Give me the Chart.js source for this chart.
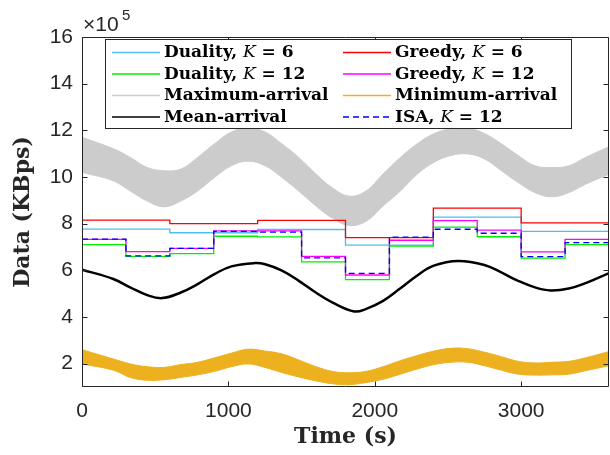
<!DOCTYPE html>
<html>
<head>
<meta charset="utf-8">
<script src="https://cdn.jsdelivr.net/npm/chart.js@4.4.1/dist/chart.umd.min.js"></script>
<style>
  html, body { margin: 0; padding: 0; background: #fff; }
</style>
</head>
<body>
<canvas id="myChart" width="610" height="455"></canvas>
<script>
// values are in units of 10^5 KBps
const xTicks = [0, 1000, 2000, 3000];
const yTicks = [2, 4, 6, 8, 10, 12, 14, 16];

// decision intervals
const timesK6 = [0, 600, 1200, 1800, 2400, 3000];
const timesK12 = [0, 300, 600, 900, 1200, 1500, 1800, 2100, 2400, 2700, 3000, 3300];
const endTime = 3600;

const dualityK6 = [7.77, 7.61, 7.75, 7.08, 8.28, 7.67];
const greedyK6 = [8.15, 8.00, 8.14, 7.40, 8.67, 8.03];
const dualityK12 = [7.10, 6.60, 6.72, 7.46, 7.43, 6.36, 5.60, 7.04, 7.85, 7.44, 6.52, 7.10];
const greedyK12 = [7.33, 6.80, 6.94, 7.69, 7.69, 6.60, 5.80, 7.29, 8.13, 7.72, 6.79, 7.33];
const isaK12 = [7.34, 6.62, 6.94, 7.67, 7.64, 6.53, 5.87, 7.42, 7.76, 7.59, 6.59, 7.19];

// mean arrival curve
const meanT = [0, 214, 329, 445, 548, 675, 790, 905, 1021, 1180, 1251, 1366, 1481, 1597, 1712,
  1860, 1942, 2057, 2173, 2288, 2403, 2570, 2749, 2864, 2979, 3094, 3200, 3325, 3440, 3600];
const meanVals = [6.03, 5.63, 5.27, 4.94, 4.81, 5.05, 5.41, 5.84, 6.17, 6.31, 6.26, 5.99, 5.55, 5.05, 4.62,
  4.24, 4.35, 4.69, 5.22, 5.77, 6.20, 6.40, 6.23, 5.91, 5.55, 5.27, 5.14, 5.22, 5.45, 5.88];

// envelopes of the noisy max / min arrival traces
const envT = [0, 215, 330, 445, 560, 675, 790, 905, 1020, 1135, 1250, 1365, 1480, 1600, 1710, 1825,
  1940, 2055, 2175, 2290, 2405, 2520, 2635, 2750, 2865, 2980, 3095, 3210, 3325, 3440, 3600];
const maxUpper = [11.70, 11.21, 10.84, 10.41, 10.27, 10.34, 10.84, 11.42, 11.93, 12.10, 11.93, 11.42, 10.84, 10.12, 9.54, 9.18,
  9.40, 10.12, 10.84, 11.42, 11.86, 12.07, 12.10, 11.86, 11.42, 10.92, 10.48, 10.41, 10.48, 10.84, 11.30];
const maxLower = [10.20, 9.83, 9.40, 8.97, 8.72, 8.97, 9.40, 9.98, 10.48, 10.68, 10.48, 9.98, 9.40, 8.75, 8.24, 7.92,
  8.10, 8.75, 9.40, 10.12, 10.63, 10.92, 10.99, 10.77, 10.27, 9.76, 9.33, 9.15, 9.33, 9.69, 10.12];
const minUpper = [2.60, 2.20, 1.99, 1.87, 1.84, 1.96, 2.06, 2.25, 2.45, 2.62, 2.54, 2.42, 2.16, 1.87, 1.67, 1.61,
  1.67, 1.87, 2.13, 2.35, 2.54, 2.66, 2.64, 2.49, 2.30, 2.10, 2.03, 2.06, 2.10, 2.25, 2.52];
const minLower = [1.99, 1.72, 1.41, 1.29, 1.31, 1.41, 1.52, 1.67, 1.87, 1.99, 1.84, 1.62, 1.43, 1.26, 1.14, 1.10,
  1.19, 1.33, 1.55, 1.77, 1.96, 2.06, 2.06, 1.91, 1.72, 1.55, 1.51, 1.52, 1.55, 1.70, 1.91];

const colors = {
  dualK6: "#4DBEEE",
  greedyK6: "#FF0000",
  dualK12: "#00EE00",
  greedyK12: "#FF00FF",
  maxArr: "#CCCCCC",
  minArr: "#EDB120",
  mean: "#000000",
  isa: "#0000FF",
};

const toPoints = (ts, vs) => ts.map((t, i) => ({ x: t, y: vs[i] }));
const toSteps = (ts, vs) => toPoints(ts, vs).concat([{ x: endTime, y: vs[vs.length - 1] }]);

const stepLine = (label, ts, vs, color, order, dash) => ({
  label,
  data: toSteps(ts, vs),
  borderColor: color,
  borderWidth: 1.3,
  borderDash: dash || [],
  stepped: true,
  pointRadius: 0,
  fill: false,
  order,
});

const curve = (label, ts, vs, color, order, width, fill) => ({
  label,
  data: toPoints(ts, vs),
  borderColor: color,
  backgroundColor: color,
  borderWidth: width,
  tension: 0.4,
  pointRadius: 0,
  fill: fill || false,
  order,
});

const serif = '"DejaVu Serif", "Liberation Serif", serif';
const sans = '"Liberation Sans", Arial, sans-serif';

// legend drawn inside the axes, two columns
const legendItems = [
  { parts: [["b", "Duality, "], ["i", "K"], ["b", " = 6"]], color: colors.dualK6 },
  { parts: [["b", "Greedy, "], ["i", "K"], ["b", " = 6"]], color: colors.greedyK6 },
  { parts: [["b", "Duality, "], ["i", "K"], ["b", " = 12"]], color: colors.dualK12 },
  { parts: [["b", "Greedy, "], ["i", "K"], ["b", " = 12"]], color: colors.greedyK12 },
  { parts: [["b", "Maximum-arrival"]], color: colors.maxArr },
  { parts: [["b", "Minimum-arrival"]], color: colors.minArr },
  { parts: [["b", "Mean-arrival"]], color: colors.mean },
  { parts: [["b", "ISA, "], ["i", "K"], ["b", " = 12"]], color: colors.isa, dash: [6, 4] },
];

const boxLegend = {
  id: "boxLegend",
  afterDraw(chart) {
    const ctx = chart.ctx;
    ctx.save();
    ctx.fillStyle = "#fff";
    ctx.fillRect(105.5, 39.5, 466, 89);
    ctx.strokeStyle = "#262626";
    ctx.lineWidth = 1;
    ctx.strokeRect(105.5, 39.5, 466, 89);
    ctx.textBaseline = "middle";
    ctx.fillStyle = "#000";
    legendItems.forEach((it, i) => {
      const col = i % 2, row = Math.floor(i / 2);
      const y = 52 + row * 21.5;
      const x0 = col === 0 ? 112 : 343;
      ctx.beginPath();
      ctx.strokeStyle = it.color;
      ctx.lineWidth = 1.3;
      ctx.setLineDash(it.dash || []);
      ctx.moveTo(x0, y + 0.5);
      ctx.lineTo(x0 + 48, y + 0.5);
      ctx.stroke();
      ctx.setLineDash([]);
      let x = x0 + 52;
      it.parts.forEach(([style, txt]) => {
        ctx.font = (style === "i" ? "italic " : "bold ") + "17px " + serif;
        ctx.fillText(txt, x, y + 1);
        x += ctx.measureText(txt).width;
      });
    });
    ctx.restore();
  },
};

// box around the axes with inward ticks, axis titles and the exponent
const axesFrame = {
  id: "axesFrame",
  afterDatasetsDraw(chart) {
    const { ctx, chartArea: a, scales } = chart;
    ctx.save();
    ctx.strokeStyle = "#262626";
    ctx.lineWidth = 1;
    const L = Math.round(a.left) + 0.5, R = Math.round(a.right) - 0.5;
    const T = Math.round(a.top) + 0.5, B = Math.round(a.bottom) - 0.5;
    ctx.beginPath();
    ctx.rect(L, T, R - L, B - T);
    xTicks.forEach(v => {
      const px = Math.round(scales.x.getPixelForValue(v)) + 0.5;
      ctx.moveTo(px, B); ctx.lineTo(px, B - 5);
      ctx.moveTo(px, T); ctx.lineTo(px, T + 5);
    });
    yTicks.forEach(v => {
      const py = Math.round(scales.y.getPixelForValue(v)) + 0.5;
      ctx.moveTo(L, py); ctx.lineTo(L + 5, py);
      ctx.moveTo(R, py); ctx.lineTo(R - 5, py);
    });
    ctx.stroke();

    ctx.fillStyle = "#262626";
    ctx.font = "bold 22px " + serif;
    ctx.textAlign = "center";
    ctx.textBaseline = "alphabetic";
    ctx.fillText("Time (s)", (a.left + a.right) / 2, 443);
    ctx.save();
    ctx.translate(29, (a.top + a.bottom) / 2);
    ctx.rotate(-Math.PI / 2);
    ctx.fillText("Data (KBps)", 0, 0);
    ctx.restore();

    ctx.textAlign = "left";
    ctx.font = "21px " + sans;
    ctx.fillText("\u00d710", 83, 31);
    ctx.font = "15px " + sans;
    ctx.fillText("5", 122, 20);
    ctx.restore();
  },
};

const ctx = document.getElementById("myChart");

new Chart(ctx, {
  type: "line",
  data: {
    datasets: [
      stepLine("ISA, K = 12", timesK12, isaK12, colors.isa, 1, [6, 4]),
      stepLine("Greedy, K = 12", timesK12, greedyK12, colors.greedyK12, 2),
      stepLine("Duality, K = 12", timesK12, dualityK12, colors.dualK12, 3),
      stepLine("Greedy, K = 6", timesK6, greedyK6, colors.greedyK6, 4),
      stepLine("Duality, K = 6", timesK6, dualityK6, colors.dualK6, 5),
      curve("Mean-arrival", meanT, meanVals, colors.mean, 6, 2.5),
      curve("Minimum-arrival", envT, minUpper, colors.minArr, 7, 1, "+1"),
      curve("Minimum-arrival (low)", envT, minLower, colors.minArr, 8, 1),
      curve("Maximum-arrival", envT, maxUpper, colors.maxArr, 9, 1, "+1"),
      curve("Maximum-arrival (low)", envT, maxLower, colors.maxArr, 10, 1),
    ],
  },
  options: {
    responsive: false,
    animation: false,
    layout: { padding: { left: 0, right: 1, top: 37, bottom: 0 } },
    plugins: {
      legend: { display: false },
      tooltip: { enabled: false },
    },
    scales: {
      x: {
        type: "linear",
        min: 0,
        max: endTime,
        afterBuildTicks: s => { s.ticks = xTicks.map(v => ({ value: v })); },
        afterFit: s => { s.height = 68; },
        grid: { display: false, drawTicks: false },
        border: { display: false },
        ticks: {
          color: "#262626",
          font: { family: sans, size: 21 },
          padding: 12,
          maxRotation: 0,
          callback: v => String(v),
        },
      },
      y: {
        min: 1,
        max: 16,
        afterBuildTicks: s => { s.ticks = yTicks.map(v => ({ value: v })); },
        afterFit: s => { s.width = 82; },
        grid: { display: false, drawTicks: false },
        border: { display: false },
        ticks: { color: "#262626", font: { family: sans, size: 21 }, padding: 9 },
      },
    },
  },
  plugins: [axesFrame, boxLegend],
});
</script>
</body>
</html>
